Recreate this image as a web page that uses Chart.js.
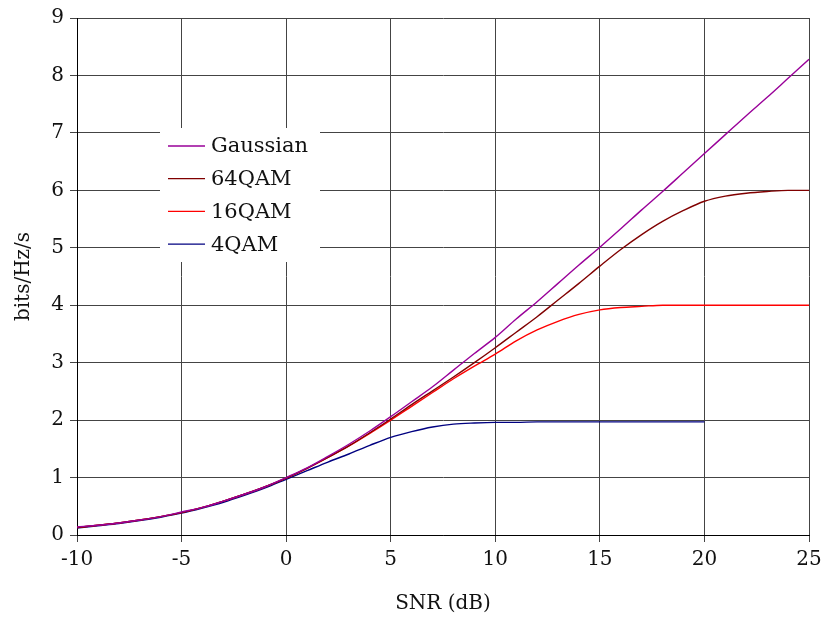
<!DOCTYPE html>
<html>
<head>
<meta charset="utf-8">
<script src="https://cdn.jsdelivr.net/npm/chart.js@4.4.1/dist/chart.umd.min.js"></script>
<style>
  html, body { margin: 0; padding: 0; background: #fff; }
  #wrap { width: 822px; height: 620px; }
</style>
</head>
<body>
<div id="wrap"><canvas id="myChart"></canvas></div>
<script>
// SNR in dB
const snr = [-10, -9, -8, -7, -6, -5, -4, -3, -2, -1, 0, 1, 2, 3, 4, 5, 6, 7, 8, 9, 10,
  11, 12, 13, 14, 15, 16, 17, 18, 19, 20, 21, 22, 23, 24, 25];

// bits/Hz/s
const gaussian = [0.14, 0.17, 0.21, 0.26, 0.32, 0.40, 0.48, 0.59, 0.71, 0.84, 1.00, 1.17, 1.37, 1.58, 1.81, 2.06,
  2.32, 2.58, 2.87, 3.16, 3.44, 3.76, 4.06, 4.38, 4.70, 5.01, 5.33, 5.66, 5.98, 6.31, 6.64, 6.97, 7.30, 7.62, 7.95, 8.28];
const qam64 = [0.13, 0.17, 0.21, 0.26, 0.32, 0.39, 0.48, 0.59, 0.71, 0.84, 0.99, 1.16, 1.35, 1.55, 1.78, 2.02,
  2.27, 2.51, 2.75, 3.00, 3.26, 3.53, 3.80, 4.09, 4.38, 4.68, 4.97, 5.23, 5.46, 5.65, 5.81, 5.90, 5.95, 5.98, 6.00, 6.00];
const qam16 = [0.13, 0.17, 0.21, 0.26, 0.32, 0.39, 0.48, 0.59, 0.71, 0.84, 0.99, 1.16, 1.35, 1.55, 1.77, 2.00,
  2.24, 2.48, 2.72, 2.94, 3.15, 3.38, 3.57, 3.72, 3.84, 3.92, 3.96, 3.98, 4.00, 4.00, 4.00, 4.00, 4.00, 4.00, 4.00, 4.00];
const qam4 = [0.12, 0.16, 0.20, 0.25, 0.31, 0.38, 0.47, 0.57, 0.69, 0.82, 0.97, 1.12, 1.27, 1.41, 1.56, 1.70,
  1.80, 1.88, 1.93, 1.95, 1.96, 1.96, 1.97, 1.97, 1.97, 1.97, 1.97, 1.97, 1.97, 1.97, 1.97];

const yTicks = [0, 1, 2, 3, 4, 5, 6, 7, 8, 9];
const xTicks = [-10, -5, 0, 5, 10, 15, 20, 25];

const seriesNames = ['Gaussian', '64QAM', '16QAM', '4QAM'];
const seriesColors = ['#990099', '#800000', '#ff0000', '#000080'];
const seriesValues = [gaussian, qam64, qam16, qam4];

const FONT = '"DejaVu Serif", "Liberation Serif", serif';

function toPoints(vals) {
  return vals.map((v, i) => ({ x: snr[i], y: v }));
}

// legend drawn as a white box inside the plot
const boxLegend = {
  id: 'boxLegend',
  beforeDatasetsDraw(chart) {
    const ctx = chart.ctx;
    ctx.save();
    ctx.fillStyle = '#fff';
    ctx.fillRect(160, 128, 160, 134);
    ctx.font = '21px ' + FONT;
    ctx.textBaseline = 'middle';
    chart.data.datasets.forEach((ds, i) => {
      const y = 146 + i * 32.7;
      ctx.strokeStyle = ds.borderColor;
      ctx.lineWidth = 1.3;
      ctx.beginPath();
      ctx.moveTo(168, y);
      ctx.lineTo(205, y);
      ctx.stroke();
      ctx.fillStyle = '#111';
      ctx.fillText(ds.label, 211, y + 1);
    });
    ctx.restore();
  }
};

new Chart(document.getElementById('myChart').getContext('2d'), {
  type: 'line',
  data: {
    datasets: seriesNames.map((name, i) => ({
      label: name,
      data: toPoints(seriesValues[i]),
      borderColor: seriesColors[i],
      backgroundColor: seriesColors[i],
      borderWidth: 1.4,
      pointRadius: 0,
      cubicInterpolationMode: 'monotone',
      fill: false
    }))
  },
  options: {
    responsive: true,
    maintainAspectRatio: false,
    animation: false,
    layout: { padding: { top: 15, right: 13, left: 0, bottom: 0 } },
    plugins: {
      legend: { display: false },
      tooltip: { enabled: false }
    },
    scales: {
      x: {
        type: 'linear',
        min: -10,
        max: 25,
        afterBuildTicks: (s) => { s.ticks = xTicks.map(v => ({ value: v })); },
        afterFit: (s) => { s.height = 85; s.paddingRight = 0; s.paddingLeft = 0; },
        grid: { color: '#444', lineWidth: 1, tickLength: 7, drawTicks: true },
        border: { color: '#000', width: 1 },
        ticks: { color: '#111', font: { family: FONT, size: 20 }, padding: 6, maxRotation: 0 },
        title: { display: true, text: 'SNR (dB)', color: '#111', font: { family: FONT, size: 20 }, padding: { top: 10 } }
      },
      y: {
        min: 0,
        max: 9,
        afterBuildTicks: (s) => { s.ticks = yTicks.map(v => ({ value: v })); },
        afterFit: (s) => { s.width = 77; },
        grid: { color: '#444', lineWidth: 1, tickLength: 7 },
        border: { color: '#000', width: 1 },
        ticks: { color: '#111', font: { family: FONT, size: 20 }, padding: 6 },
        title: { display: true, text: 'bits/Hz/s', color: '#111', font: { family: FONT, size: 20 }, padding: { top: 12, bottom: 6 } }
      }
    }
  },
  plugins: [boxLegend]
});
</script>
</body>
</html>
